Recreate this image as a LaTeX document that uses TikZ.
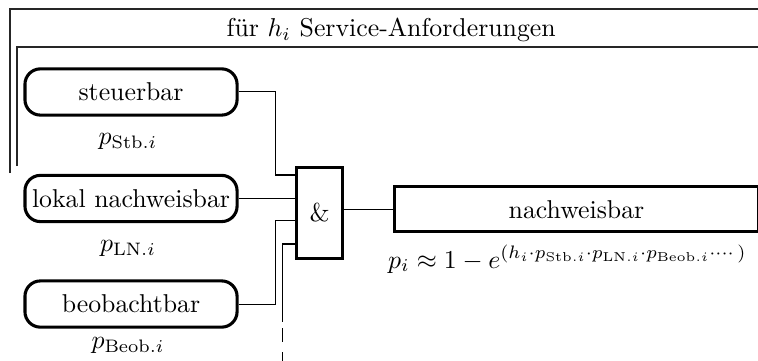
\documentclass[tikz,border=0pt]{standalone}
\usepackage{tikz}
\usepackage{amsmath}

\begin{document}
\begin{tikzpicture}[
	kasten/.style={draw,very thick,rounded corners=6pt,minimum width=2.89cm,minimum height=0.63cm,inner sep=1pt},
	gatter/.style={draw,very thick,minimum width=0.63cm,minimum height=1.24cm},
	ziel/.style={draw,very thick,minimum width=4.95cm,minimum height=0.61cm},
	rahmen/.style={line width=0.6pt,black!85}]
		\useasboundingbox (0,0) rectangle (10.327,-4.918);
		% Rahmen fuer die Anforderungen
		\draw [rahmen] (0.136,-2.357) |- (10.6,-0.123);
		\draw [rahmen] (0.228,-2.262) |- (10.6,-0.640);
		\node at (5.33,-0.41) (titel) {für $h_i$ Service-Anforderungen};
		% Eigenschaften
		\node at (1.785,-1.253) [kasten] (steuer) {steuerbar};
		\node at (1.785,-2.704) [kasten] (lokal) {lokal nachweisbar};
		\node at (1.785,-4.142) [kasten] (beob) {beobachtbar};
		\node at (1.744,-1.93) (pstb) {$p_{\mathrm{Stb.}i}$};
		\node at (1.744,-3.38) (pln) {$p_{\mathrm{LN.}i}$};
		\node at (1.744,-4.71) (pbeob) {$p_{\mathrm{Beob.}i}$};
		% Verknuepfung
		\node at (4.356,-2.899) [gatter] (und) {\&};
		\node at (7.854,-2.85) [ziel] (nachw) {nachweisbar};
		\node at (7.73,-3.53) (formel) {$p_i \approx 1 - e^{(h_i \cdot p_{\mathrm{Stb.}i} \cdot p_{\mathrm{LN.}i} \cdot p_{\mathrm{Beob.}i} \cdot\cdots)}$};
		\coordinate (k1) at (3.747,-2.384);
		\coordinate (k3) at (3.747,-3.007);
		\coordinate (k4) at (3.849,-3.324);
		\coordinate (k5) at (3.849,-4.387);
		\coordinate (k6) at (3.849,-4.469);
		\coordinate (k7) at (3.849,-4.95);
		\draw (steuer.east) -| (k1) -- (k1 -| und.west);
		\draw (lokal.east) -- (lokal.east -| und.west);
		\draw (beob.east) -| (k3) -- (k3 -| und.west);
		\draw (k4 -| und.west) -- (k4) -- (k5);
		\draw [dash pattern=on 5.4pt off 3.9pt] (k6) -- (k7);
		\draw (und.east |- nachw.west) -- (nachw.west);
\end{tikzpicture}
\end{document}
